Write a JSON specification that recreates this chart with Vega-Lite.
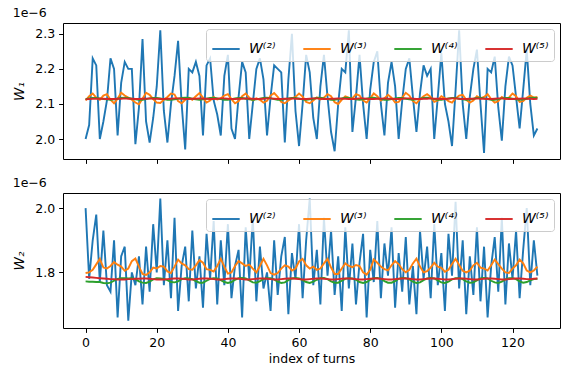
{
  "$schema": "https://vega.github.io/schema/vega-lite/v6.json",
  "padding": {"left": 12, "top": 6, "right": 4, "bottom": 4},
  "spacing": 11,
  "datasets": {
    "panel1": [
      {"i":0,"w2":2.00,"w3":2.110,"w4":2.114,"w5":2.113},
      {"i":1,"w2":2.04,"w3":2.122,"w4":2.116,"w5":2.114},
      {"i":2,"w2":2.23,"w3":2.130,"w4":2.117,"w5":2.115},
      {"i":3,"w2":2.21,"w3":2.118,"w4":2.117,"w5":2.115},
      {"i":4,"w2":2.00,"w3":2.112,"w4":2.116,"w5":2.115},
      {"i":5,"w2":2.05,"w3":2.124,"w4":2.114,"w5":2.115},
      {"i":6,"w2":2.11,"w3":2.128,"w4":2.113,"w5":2.114},
      {"i":7,"w2":2.23,"w3":2.112,"w4":2.112,"w5":2.114},
      {"i":8,"w2":2.20,"w3":2.102,"w4":2.113,"w5":2.114},
      {"i":9,"w2":2.01,"w3":2.115,"w4":2.115,"w5":2.115},
      {"i":10,"w2":2.16,"w3":2.132,"w4":2.117,"w5":2.115},
      {"i":11,"w2":2.22,"w3":2.124,"w4":2.118,"w5":2.116},
      {"i":12,"w2":2.20,"w3":2.118,"w4":2.117,"w5":2.115},
      {"i":13,"w2":2.20,"w3":2.112,"w4":2.115,"w5":2.115},
      {"i":14,"w2":1.985,"w3":2.104,"w4":2.113,"w5":2.114},
      {"i":15,"w2":2.09,"w3":2.099,"w4":2.112,"w5":2.114},
      {"i":16,"w2":2.285,"w3":2.115,"w4":2.112,"w5":2.115},
      {"i":17,"w2":2.05,"w3":2.132,"w4":2.114,"w5":2.115},
      {"i":18,"w2":1.99,"w3":2.126,"w4":2.116,"w5":2.116},
      {"i":19,"w2":2.06,"w3":2.114,"w4":2.117,"w5":2.115},
      {"i":20,"w2":2.15,"w3":2.104,"w4":2.117,"w5":2.115},
      {"i":21,"w2":2.31,"w3":2.103,"w4":2.116,"w5":2.114},
      {"i":22,"w2":2.08,"w3":2.112,"w4":2.114,"w5":2.114},
      {"i":23,"w2":1.99,"w3":2.120,"w4":2.112,"w5":2.115},
      {"i":24,"w2":2.10,"w3":2.130,"w4":2.112,"w5":2.115},
      {"i":25,"w2":2.18,"w3":2.127,"w4":2.113,"w5":2.116},
      {"i":26,"w2":2.28,"w3":2.108,"w4":2.115,"w5":2.116},
      {"i":27,"w2":2.10,"w3":2.102,"w4":2.117,"w5":2.115},
      {"i":28,"w2":1.97,"w3":2.112,"w4":2.118,"w5":2.114},
      {"i":29,"w2":2.20,"w3":2.118,"w4":2.117,"w5":2.114},
      {"i":30,"w2":2.19,"w3":2.112,"w4":2.115,"w5":2.115},
      {"i":31,"w2":2.22,"w3":2.122,"w4":2.113,"w5":2.115},
      {"i":32,"w2":2.18,"w3":2.131,"w4":2.112,"w5":2.116},
      {"i":33,"w2":2.01,"w3":2.118,"w4":2.113,"w5":2.115},
      {"i":34,"w2":2.21,"w3":2.104,"w4":2.115,"w5":2.115},
      {"i":35,"w2":2.23,"w3":2.110,"w4":2.117,"w5":2.114},
      {"i":36,"w2":2.11,"w3":2.120,"w4":2.118,"w5":2.114},
      {"i":37,"w2":2.07,"w3":2.113,"w4":2.116,"w5":2.115},
      {"i":38,"w2":2.01,"w3":2.116,"w4":2.114,"w5":2.116},
      {"i":39,"w2":2.18,"w3":2.124,"w4":2.112,"w5":2.116},
      {"i":40,"w2":2.24,"w3":2.128,"w4":2.112,"w5":2.115},
      {"i":41,"w2":2.03,"w3":2.114,"w4":2.114,"w5":2.114},
      {"i":42,"w2":2.00,"w3":2.102,"w4":2.116,"w5":2.114},
      {"i":43,"w2":2.12,"w3":2.108,"w4":2.117,"w5":2.115},
      {"i":44,"w2":2.22,"w3":2.122,"w4":2.117,"w5":2.115},
      {"i":45,"w2":2.19,"w3":2.130,"w4":2.115,"w5":2.116},
      {"i":46,"w2":2.00,"w3":2.118,"w4":2.113,"w5":2.115},
      {"i":47,"w2":2.10,"w3":2.110,"w4":2.112,"w5":2.115},
      {"i":48,"w2":2.20,"w3":2.116,"w4":2.113,"w5":2.114},
      {"i":49,"w2":2.23,"w3":2.112,"w4":2.115,"w5":2.114},
      {"i":50,"w2":2.17,"w3":2.104,"w4":2.117,"w5":2.115},
      {"i":51,"w2":2.01,"w3":2.109,"w4":2.118,"w5":2.116},
      {"i":52,"w2":2.12,"w3":2.124,"w4":2.116,"w5":2.116},
      {"i":53,"w2":2.21,"w3":2.131,"w4":2.114,"w5":2.115},
      {"i":54,"w2":2.20,"w3":2.120,"w4":2.112,"w5":2.114},
      {"i":55,"w2":2.19,"w3":2.106,"w4":2.112,"w5":2.114},
      {"i":56,"w2":1.99,"w3":2.102,"w4":2.114,"w5":2.115},
      {"i":57,"w2":2.17,"w3":2.110,"w4":2.116,"w5":2.115},
      {"i":58,"w2":2.30,"w3":2.116,"w4":2.117,"w5":2.116},
      {"i":59,"w2":2.08,"w3":2.120,"w4":2.117,"w5":2.115},
      {"i":60,"w2":1.98,"w3":2.130,"w4":2.115,"w5":2.115},
      {"i":61,"w2":2.10,"w3":2.121,"w4":2.113,"w5":2.114},
      {"i":62,"w2":2.24,"w3":2.106,"w4":2.112,"w5":2.114},
      {"i":63,"w2":2.19,"w3":2.102,"w4":2.113,"w5":2.115},
      {"i":64,"w2":2.06,"w3":2.110,"w4":2.115,"w5":2.116},
      {"i":65,"w2":2.00,"w3":2.119,"w4":2.117,"w5":2.116},
      {"i":66,"w2":2.15,"w3":2.113,"w4":2.118,"w5":2.115},
      {"i":67,"w2":2.24,"w3":2.118,"w4":2.116,"w5":2.114},
      {"i":68,"w2":2.12,"w3":2.128,"w4":2.114,"w5":2.114},
      {"i":69,"w2":2.02,"w3":2.122,"w4":2.112,"w5":2.115},
      {"i":70,"w2":1.965,"w3":2.105,"w4":2.112,"w5":2.115},
      {"i":71,"w2":2.10,"w3":2.100,"w4":2.114,"w5":2.116},
      {"i":72,"w2":2.20,"w3":2.112,"w4":2.116,"w5":2.115},
      {"i":73,"w2":2.19,"w3":2.122,"w4":2.118,"w5":2.115},
      {"i":74,"w2":2.31,"w3":2.118,"w4":2.117,"w5":2.114},
      {"i":75,"w2":2.02,"w3":2.116,"w4":2.115,"w5":2.114},
      {"i":76,"w2":2.12,"w3":2.128,"w4":2.113,"w5":2.115},
      {"i":77,"w2":2.24,"w3":2.124,"w4":2.112,"w5":2.116},
      {"i":78,"w2":2.10,"w3":2.110,"w4":2.113,"w5":2.116},
      {"i":79,"w2":2.00,"w3":2.104,"w4":2.115,"w5":2.115},
      {"i":80,"w2":2.14,"w3":2.116,"w4":2.117,"w5":2.114},
      {"i":81,"w2":2.22,"w3":2.130,"w4":2.118,"w5":2.114},
      {"i":82,"w2":2.25,"w3":2.122,"w4":2.116,"w5":2.115},
      {"i":83,"w2":2.10,"w3":2.110,"w4":2.114,"w5":2.115},
      {"i":84,"w2":2.01,"w3":2.116,"w4":2.112,"w5":2.116},
      {"i":85,"w2":2.16,"w3":2.126,"w4":2.112,"w5":2.115},
      {"i":86,"w2":2.22,"w3":2.118,"w4":2.114,"w5":2.115},
      {"i":87,"w2":2.15,"w3":2.104,"w4":2.116,"w5":2.114},
      {"i":88,"w2":2.00,"w3":2.106,"w4":2.117,"w5":2.114},
      {"i":89,"w2":2.11,"w3":2.118,"w4":2.117,"w5":2.115},
      {"i":90,"w2":2.20,"w3":2.132,"w4":2.115,"w5":2.116},
      {"i":91,"w2":2.23,"w3":2.124,"w4":2.113,"w5":2.116},
      {"i":92,"w2":2.12,"w3":2.108,"w4":2.112,"w5":2.115},
      {"i":93,"w2":2.02,"w3":2.102,"w4":2.113,"w5":2.114},
      {"i":94,"w2":2.13,"w3":2.114,"w4":2.115,"w5":2.114},
      {"i":95,"w2":2.21,"w3":2.122,"w4":2.117,"w5":2.115},
      {"i":96,"w2":2.18,"w3":2.128,"w4":2.118,"w5":2.115},
      {"i":97,"w2":2.20,"w3":2.120,"w4":2.116,"w5":2.116},
      {"i":98,"w2":2.00,"w3":2.106,"w4":2.114,"w5":2.115},
      {"i":99,"w2":2.12,"w3":2.110,"w4":2.112,"w5":2.115},
      {"i":100,"w2":2.245,"w3":2.122,"w4":2.112,"w5":2.114},
      {"i":101,"w2":2.10,"w3":2.116,"w4":2.114,"w5":2.114},
      {"i":102,"w2":2.05,"w3":2.108,"w4":2.116,"w5":2.115},
      {"i":103,"w2":1.98,"w3":2.104,"w4":2.117,"w5":2.116},
      {"i":104,"w2":2.14,"w3":2.116,"w4":2.117,"w5":2.116},
      {"i":105,"w2":2.31,"w3":2.124,"w4":2.115,"w5":2.115},
      {"i":106,"w2":2.10,"w3":2.126,"w4":2.113,"w5":2.114},
      {"i":107,"w2":2.00,"w3":2.112,"w4":2.112,"w5":2.114},
      {"i":108,"w2":2.12,"w3":2.104,"w4":2.113,"w5":2.115},
      {"i":109,"w2":2.20,"w3":2.110,"w4":2.115,"w5":2.115},
      {"i":110,"w2":2.255,"w3":2.122,"w4":2.117,"w5":2.116},
      {"i":111,"w2":2.10,"w3":2.116,"w4":2.118,"w5":2.115},
      {"i":112,"w2":1.96,"w3":2.120,"w4":2.116,"w5":2.115},
      {"i":113,"w2":2.20,"w3":2.128,"w4":2.114,"w5":2.114},
      {"i":114,"w2":2.19,"w3":2.114,"w4":2.112,"w5":2.114},
      {"i":115,"w2":2.235,"w3":2.104,"w4":2.112,"w5":2.115},
      {"i":116,"w2":2.09,"w3":2.108,"w4":2.114,"w5":2.116},
      {"i":117,"w2":1.995,"w3":2.120,"w4":2.116,"w5":2.116},
      {"i":118,"w2":2.15,"w3":2.114,"w4":2.117,"w5":2.115},
      {"i":119,"w2":2.235,"w3":2.118,"w4":2.117,"w5":2.114},
      {"i":120,"w2":2.21,"w3":2.130,"w4":2.115,"w5":2.114},
      {"i":121,"w2":2.12,"w3":2.122,"w4":2.113,"w5":2.115},
      {"i":122,"w2":2.03,"w3":2.106,"w4":2.112,"w5":2.115},
      {"i":123,"w2":2.14,"w3":2.108,"w4":2.113,"w5":2.116},
      {"i":124,"w2":2.255,"w3":2.118,"w4":2.115,"w5":2.115},
      {"i":125,"w2":2.10,"w3":2.124,"w4":2.117,"w5":2.115},
      {"i":126,"w2":2.01,"w3":2.118,"w4":2.118,"w5":2.114},
      {"i":127,"w2":2.03,"w3":2.120,"w4":2.117,"w5":2.115}
    ],
    "panel2": [
      {"i":0,"w2":2.00,"w3":1.798,"w4":1.772,"w5":1.786},
      {"i":1,"w2":1.78,"w3":1.800,"w4":1.771,"w5":1.785},
      {"i":2,"w2":1.90,"w3":1.808,"w4":1.771,"w5":1.784},
      {"i":3,"w2":1.98,"w3":1.825,"w4":1.770,"w5":1.783},
      {"i":4,"w2":1.77,"w3":1.842,"w4":1.770,"w5":1.782},
      {"i":5,"w2":1.93,"w3":1.815,"w4":1.767,"w5":1.781},
      {"i":6,"w2":1.76,"w3":1.812,"w4":1.766,"w5":1.780},
      {"i":7,"w2":1.74,"w3":1.820,"w4":1.768,"w5":1.779},
      {"i":8,"w2":1.90,"w3":1.832,"w4":1.774,"w5":1.779},
      {"i":9,"w2":1.66,"w3":1.824,"w4":1.780,"w5":1.778},
      {"i":10,"w2":1.85,"w3":1.818,"w4":1.782,"w5":1.778},
      {"i":11,"w2":1.88,"w3":1.805,"w4":1.782,"w5":1.778},
      {"i":12,"w2":1.65,"w3":1.812,"w4":1.781,"w5":1.779},
      {"i":13,"w2":1.80,"w3":1.835,"w4":1.782,"w5":1.779},
      {"i":14,"w2":1.76,"w3":1.843,"w4":1.779,"w5":1.780},
      {"i":15,"w2":1.85,"w3":1.818,"w4":1.772,"w5":1.780},
      {"i":16,"w2":1.70,"w3":1.795,"w4":1.768,"w5":1.781},
      {"i":17,"w2":1.88,"w3":1.792,"w4":1.767,"w5":1.781},
      {"i":18,"w2":1.74,"w3":1.800,"w4":1.771,"w5":1.780},
      {"i":19,"w2":1.95,"w3":1.815,"w4":1.778,"w5":1.779},
      {"i":20,"w2":1.80,"w3":1.812,"w4":1.782,"w5":1.778},
      {"i":21,"w2":2.03,"w3":1.820,"w4":1.781,"w5":1.778},
      {"i":22,"w2":1.76,"w3":1.818,"w4":1.780,"w5":1.778},
      {"i":23,"w2":1.90,"w3":1.803,"w4":1.776,"w5":1.779},
      {"i":24,"w2":1.72,"w3":1.798,"w4":1.770,"w5":1.780},
      {"i":25,"w2":1.97,"w3":1.818,"w4":1.769,"w5":1.781},
      {"i":26,"w2":1.68,"w3":1.840,"w4":1.772,"w5":1.781},
      {"i":27,"w2":1.82,"w3":1.828,"w4":1.779,"w5":1.780},
      {"i":28,"w2":1.88,"w3":1.822,"w4":1.782,"w5":1.779},
      {"i":29,"w2":1.71,"w3":1.810,"w4":1.781,"w5":1.778},
      {"i":30,"w2":1.93,"w3":1.808,"w4":1.779,"w5":1.778},
      {"i":31,"w2":1.75,"w3":1.822,"w4":1.773,"w5":1.779},
      {"i":32,"w2":1.85,"w3":1.838,"w4":1.768,"w5":1.780},
      {"i":33,"w2":1.69,"w3":1.830,"w4":1.768,"w5":1.781},
      {"i":34,"w2":1.92,"w3":1.810,"w4":1.774,"w5":1.781},
      {"i":35,"w2":1.78,"w3":1.808,"w4":1.780,"w5":1.780},
      {"i":36,"w2":1.96,"w3":1.803,"w4":1.782,"w5":1.779},
      {"i":37,"w2":1.70,"w3":1.820,"w4":1.781,"w5":1.778},
      {"i":38,"w2":1.90,"w3":1.842,"w4":1.776,"w5":1.778},
      {"i":39,"w2":1.76,"w3":1.818,"w4":1.770,"w5":1.779},
      {"i":40,"w2":1.95,"w3":1.796,"w4":1.767,"w5":1.780},
      {"i":41,"w2":1.72,"w3":1.800,"w4":1.770,"w5":1.781},
      {"i":42,"w2":1.82,"w3":1.820,"w4":1.777,"w5":1.781},
      {"i":43,"w2":1.87,"w3":1.835,"w4":1.782,"w5":1.780},
      {"i":44,"w2":1.66,"w3":1.828,"w4":1.783,"w5":1.779},
      {"i":45,"w2":1.94,"w3":1.820,"w4":1.781,"w5":1.778},
      {"i":46,"w2":1.78,"w3":1.824,"w4":1.775,"w5":1.778},
      {"i":47,"w2":1.97,"w3":1.812,"w4":1.769,"w5":1.779},
      {"i":48,"w2":1.71,"w3":1.800,"w4":1.768,"w5":1.780},
      {"i":49,"w2":1.88,"w3":1.820,"w4":1.773,"w5":1.781},
      {"i":50,"w2":1.75,"w3":1.842,"w4":1.779,"w5":1.781},
      {"i":51,"w2":1.80,"w3":1.822,"w4":1.782,"w5":1.780},
      {"i":52,"w2":1.68,"w3":1.798,"w4":1.782,"w5":1.779},
      {"i":53,"w2":1.90,"w3":1.793,"w4":1.778,"w5":1.778},
      {"i":54,"w2":1.73,"w3":1.798,"w4":1.771,"w5":1.778},
      {"i":55,"w2":1.85,"w3":1.812,"w4":1.767,"w5":1.779},
      {"i":56,"w2":1.91,"w3":1.822,"w4":1.769,"w5":1.780},
      {"i":57,"w2":1.67,"w3":1.818,"w4":1.776,"w5":1.781},
      {"i":58,"w2":1.86,"w3":1.806,"w4":1.781,"w5":1.781},
      {"i":59,"w2":1.78,"w3":1.812,"w4":1.783,"w5":1.780},
      {"i":60,"w2":1.95,"w3":1.834,"w4":1.781,"w5":1.779},
      {"i":61,"w2":1.72,"w3":1.842,"w4":1.776,"w5":1.778},
      {"i":62,"w2":1.90,"w3":1.822,"w4":1.770,"w5":1.778},
      {"i":63,"w2":2.03,"w3":1.812,"w4":1.767,"w5":1.779},
      {"i":64,"w2":1.76,"w3":1.818,"w4":1.771,"w5":1.780},
      {"i":65,"w2":1.87,"w3":1.808,"w4":1.777,"w5":1.781},
      {"i":66,"w2":1.70,"w3":1.812,"w4":1.782,"w5":1.781},
      {"i":67,"w2":1.97,"w3":1.828,"w4":1.783,"w5":1.780},
      {"i":68,"w2":1.79,"w3":1.842,"w4":1.779,"w5":1.779},
      {"i":69,"w2":1.93,"w3":1.815,"w4":1.772,"w5":1.778},
      {"i":70,"w2":1.73,"w3":1.795,"w4":1.768,"w5":1.778},
      {"i":71,"w2":1.85,"w3":1.795,"w4":1.768,"w5":1.779},
      {"i":72,"w2":1.68,"w3":1.812,"w4":1.774,"w5":1.780},
      {"i":73,"w2":1.94,"w3":1.828,"w4":1.780,"w5":1.781},
      {"i":74,"w2":1.75,"w3":1.820,"w4":1.782,"w5":1.781},
      {"i":75,"w2":1.89,"w3":1.816,"w4":1.781,"w5":1.780},
      {"i":76,"w2":1.70,"w3":1.823,"w4":1.777,"w5":1.779},
      {"i":77,"w2":1.83,"w3":1.820,"w4":1.770,"w5":1.778},
      {"i":78,"w2":1.92,"w3":1.800,"w4":1.767,"w5":1.778},
      {"i":79,"w2":1.66,"w3":1.793,"w4":1.770,"w5":1.779},
      {"i":80,"w2":1.87,"w3":1.808,"w4":1.777,"w5":1.780},
      {"i":81,"w2":1.77,"w3":1.840,"w4":1.782,"w5":1.781},
      {"i":82,"w2":1.96,"w3":1.830,"w4":1.783,"w5":1.781},
      {"i":83,"w2":1.72,"w3":1.818,"w4":1.780,"w5":1.780},
      {"i":84,"w2":1.89,"w3":1.810,"w4":1.773,"w5":1.779},
      {"i":85,"w2":1.79,"w3":1.806,"w4":1.768,"w5":1.778},
      {"i":86,"w2":1.94,"w3":1.822,"w4":1.768,"w5":1.778},
      {"i":87,"w2":1.69,"w3":1.835,"w4":1.773,"w5":1.779},
      {"i":88,"w2":1.86,"w3":1.826,"w4":1.780,"w5":1.780},
      {"i":89,"w2":1.74,"w3":1.810,"w4":1.783,"w5":1.781},
      {"i":90,"w2":1.91,"w3":1.800,"w4":1.782,"w5":1.781},
      {"i":91,"w2":1.70,"w3":1.808,"w4":1.778,"w5":1.780},
      {"i":92,"w2":1.82,"w3":1.828,"w4":1.771,"w5":1.779},
      {"i":93,"w2":1.67,"w3":1.843,"w4":1.767,"w5":1.778},
      {"i":94,"w2":1.93,"w3":1.818,"w4":1.769,"w5":1.778},
      {"i":95,"w2":1.78,"w3":1.800,"w4":1.776,"w5":1.779},
      {"i":96,"w2":1.88,"w3":1.804,"w4":1.781,"w5":1.780},
      {"i":97,"w2":1.72,"w3":1.815,"w4":1.783,"w5":1.781},
      {"i":98,"w2":1.95,"w3":1.830,"w4":1.781,"w5":1.781},
      {"i":99,"w2":1.76,"w3":1.818,"w4":1.775,"w5":1.780},
      {"i":100,"w2":1.86,"w3":1.814,"w4":1.769,"w5":1.779},
      {"i":101,"w2":1.68,"w3":1.802,"w4":1.767,"w5":1.778},
      {"i":102,"w2":1.92,"w3":1.808,"w4":1.771,"w5":1.778},
      {"i":103,"w2":1.79,"w3":1.826,"w4":1.778,"w5":1.779},
      {"i":104,"w2":2.02,"w3":1.842,"w4":1.782,"w5":1.780},
      {"i":105,"w2":1.75,"w3":1.823,"w4":1.782,"w5":1.781},
      {"i":106,"w2":1.90,"w3":1.805,"w4":1.779,"w5":1.781},
      {"i":107,"w2":1.67,"w3":1.800,"w4":1.772,"w5":1.780},
      {"i":108,"w2":1.85,"w3":1.806,"w4":1.768,"w5":1.779},
      {"i":109,"w2":1.73,"w3":1.822,"w4":1.769,"w5":1.778},
      {"i":110,"w2":1.94,"w3":1.830,"w4":1.775,"w5":1.778},
      {"i":111,"w2":1.71,"w3":1.815,"w4":1.781,"w5":1.779},
      {"i":112,"w2":1.88,"w3":1.812,"w4":1.783,"w5":1.780},
      {"i":113,"w2":1.66,"w3":1.806,"w4":1.781,"w5":1.781},
      {"i":114,"w2":1.82,"w3":1.822,"w4":1.774,"w5":1.781},
      {"i":115,"w2":1.91,"w3":1.840,"w4":1.769,"w5":1.780},
      {"i":116,"w2":1.74,"w3":1.826,"w4":1.767,"w5":1.779},
      {"i":117,"w2":1.97,"w3":1.812,"w4":1.771,"w5":1.778},
      {"i":118,"w2":1.70,"w3":1.800,"w4":1.778,"w5":1.778},
      {"i":119,"w2":1.89,"w3":1.798,"w4":1.782,"w5":1.779},
      {"i":120,"w2":1.78,"w3":1.812,"w4":1.782,"w5":1.780},
      {"i":121,"w2":1.93,"w3":1.822,"w4":1.779,"w5":1.781},
      {"i":122,"w2":1.72,"w3":1.840,"w4":1.772,"w5":1.781},
      {"i":123,"w2":1.87,"w3":1.828,"w4":1.768,"w5":1.780},
      {"i":124,"w2":2.00,"w3":1.806,"w4":1.770,"w5":1.779},
      {"i":125,"w2":1.76,"w3":1.800,"w4":1.775,"w5":1.779},
      {"i":126,"w2":1.90,"w3":1.806,"w4":1.779,"w5":1.780},
      {"i":127,"w2":1.79,"w3":1.818,"w4":1.780,"w5":1.781}
    ]
  },
  "vconcat": [
    {
      "title": {"text": "1e\u22126"},
      "width": 497,
      "height": 136,
      "data": {"name": "panel1"},
      "transform": [{"fold": ["w2", "w3", "w4", "w5"], "as": ["series", "value"]}],
      "mark": {"type": "line", "strokeWidth": 1.9, "clip": true},
      "encoding": {
        "x": {"field": "i", "type": "quantitative",
              "scale": {"domain": [-6.35, 133.35], "nice": false, "zero": false},
              "axis": {"values": [0, 20, 40, 60, 80, 100, 120], "labels": false, "title": null}},
        "y": {"field": "value", "type": "quantitative",
              "scale": {"domain": [1.943, 2.331], "nice": false, "zero": false},
              "axis": {"values": [2.0, 2.1, 2.2, 2.3], "format": ".1f", "title": "W\u2081"}},
        "color": {"field": "series", "type": "nominal",
                  "scale": {"domain": ["w2", "w3", "w4", "w5"], "range": ["#1f77b4", "#ff7f0e", "#2ca02c", "#d62728"]},
                  "legend": {"labelExpr": "datum.label == 'w2' ? 'W\u207d\u00b2\u207e' : datum.label == 'w3' ? 'W\u207d\u00b3\u207e' : datum.label == 'w4' ? 'W\u207d\u2074\u207e' : 'W\u207d\u2075\u207e'"}}
      }
    },
    {
      "title": {"text": "1e\u22126"},
      "width": 497,
      "height": 135,
      "data": {"name": "panel2"},
      "transform": [{"fold": ["w2", "w3", "w4", "w5"], "as": ["series", "value"]}],
      "mark": {"type": "line", "strokeWidth": 1.9, "clip": true},
      "encoding": {
        "x": {"field": "i", "type": "quantitative",
              "scale": {"domain": [-6.35, 133.35], "nice": false, "zero": false},
              "axis": {"values": [0, 20, 40, 60, 80, 100, 120], "title": "index of turns"}},
        "y": {"field": "value", "type": "quantitative",
              "scale": {"domain": [1.627, 2.047], "nice": false, "zero": false},
              "axis": {"values": [1.8, 2.0], "format": ".1f", "title": "W\u2082"}},
        "color": {"field": "series", "type": "nominal",
                  "scale": {"domain": ["w2", "w3", "w4", "w5"], "range": ["#1f77b4", "#ff7f0e", "#2ca02c", "#d62728"]},
                  "legend": {"labelExpr": "datum.label == 'w2' ? 'W\u207d\u00b2\u207e' : datum.label == 'w3' ? 'W\u207d\u00b3\u207e' : datum.label == 'w4' ? 'W\u207d\u2074\u207e' : 'W\u207d\u2075\u207e'"}}
      }
    }
  ],
  "resolve": {"scale": {"color": "independent"}, "legend": {"color": "independent"}},
  "config": {
    "font": "DejaVu Sans",
    "background": "white",
    "view": {"stroke": "#000000", "strokeWidth": 1},
    "title": {"fontSize": 12.5, "fontWeight": "normal", "anchor": "start", "offset": 4, "color": "#000000", "font": "DejaVu Sans"},
    "axis": {
      "grid": false, "domain": false,
      "tickColor": "#000000", "tickSize": 4.4, "tickWidth": 1,
      "labelFontSize": 12.5, "labelColor": "#000000", "labelPadding": 4,
      "titleFontSize": 13.5, "titleFontWeight": "normal", "titleColor": "#000000"
    },
    "axisY": {"titlePadding": 8, "titleFontStyle": "italic"},
    "axisX": {"titlePadding": 4, "titleFontSize": 12.5},
    "legend": {
      "orient": "top-right", "offset": 6, "direction": "horizontal", "columns": 4,
      "columnPadding": 23, "title": null,
      "symbolType": "stroke", "symbolSize": 750, "symbolStrokeWidth": 1.9,
      "labelFontSize": 14, "labelFontStyle": "italic", "labelOffset": 8, "labelColor": "#000000",
      "fillColor": "rgba(255,255,255,0.8)", "strokeColor": "#cccccc", "cornerRadius": 3, "padding": 5
    }
  }
}
